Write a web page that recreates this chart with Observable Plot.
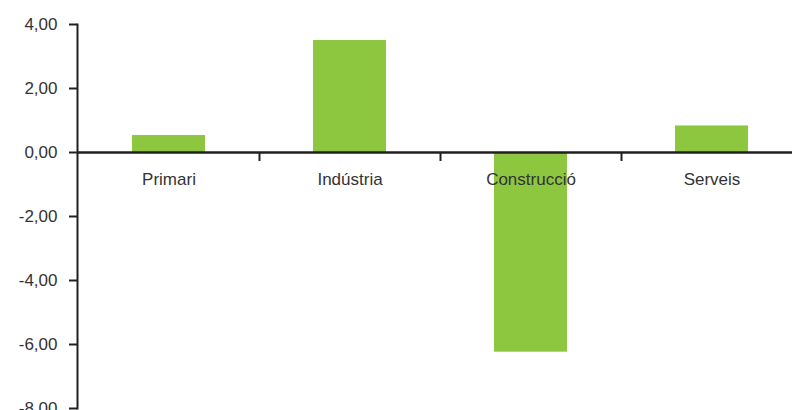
<!DOCTYPE html>
<html>
<head>
<meta charset="utf-8">
<script src="https://cdn.jsdelivr.net/npm/d3@7"></script>
<script src="https://cdn.jsdelivr.net/npm/@observablehq/plot@0.6"></script>
<style>
  html, body { margin: 0; padding: 0; background: #fff; }
  #chart svg { display: block; }
</style>
</head>
<body>
<div id="chart"></div>
<script>
const categories = ["Primari", "Indústria", "Construcció", "Serveis"];
const values = [0.53, 3.5, -6.24, 0.83];
const yTicks = [4, 2, 0, -2, -4, -6, -8];

const data = categories.map((c, i) => ({category: c, value: values[i]}));
const fmt = d => d3.format(".2f")(d).replace(".", ",").replace("−", "-");

const bandwidth = (802 - 78) / categories.length;

const chart = Plot.plot({
  width: 792,
  height: 410,
  marginLeft: 77,
  marginRight: 0,
  marginTop: 24,
  marginBottom: 2,
  style: {fontFamily: "'Liberation Sans', Arial, sans-serif", fontSize: "17px", color: "#333", background: "#fff", overflow: "hidden"},
  x: {domain: categories, range: [78, 802], padding: 0, axis: null},
  y: {domain: [-8, 4], axis: null},
  marks: [
    Plot.barY(data, {x: "category", y: "value", fill: "#8dc63f", insetLeft: 54, insetRight: 54}),
    Plot.ruleY([0], {stroke: "#231f20", strokeWidth: 2.5}),
    Plot.ruleX(categories.slice(1), {x: d => d, y1: 0, y2: -0.28, dx: -bandwidth / 2, stroke: "#231f20", strokeWidth: 2}),
    Plot.frame({anchor: "left", stroke: "#231f20", strokeWidth: 2}),
    Plot.axisY({ticks: yTicks, tickFormat: fmt, tickSize: 8, tickPadding: 12, stroke: "#231f20", strokeWidth: 2, fill: "#333", fontSize: 17, label: null}),
    Plot.text(categories, {x: d => d, y: 0, dy: 27, fill: "#333", fontSize: 17})
  ]
});
document.getElementById("chart").appendChild(chart);
</script>
</body>
</html>
